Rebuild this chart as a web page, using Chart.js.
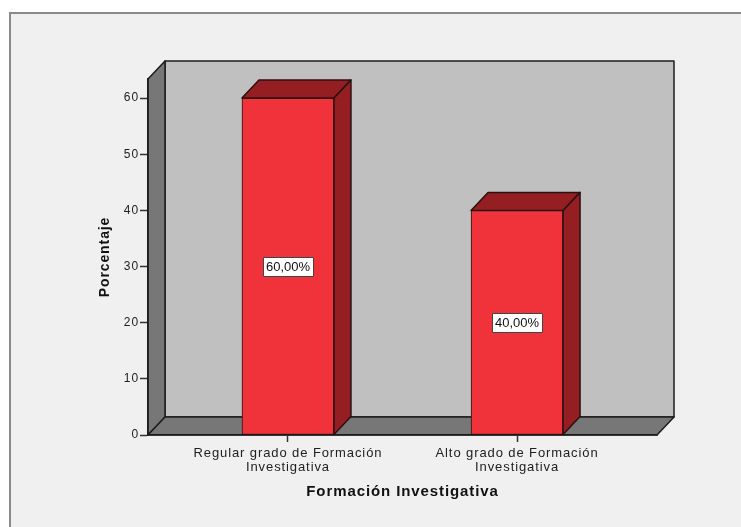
<!DOCTYPE html>
<html>
<head>
<meta charset="utf-8">
<script src="https://cdn.jsdelivr.net/npm/chart.js@4/dist/chart.umd.min.js"></script>
<style>
  html, body { margin: 0; padding: 0; background: #fff; }
  #wrap { width: 741px; height: 527px; }
</style>
</head>
<body>
<div id="wrap"><canvas id="c" width="741" height="527"></canvas></div>
<script>
const categories = [
  ["Regular grado de Formación", "Investigativa"],
  ["Alto grado de Formación", "Investigativa"]
];
const percentages = [60, 40];
const yTicks = [0, 10, 20, 30, 40, 50, 60];
const xTitle = "Formación Investigativa";
const yTitle = "Porcentaje";

const FONT = "'Liberation Sans', Arial, sans-serif";
const DX = 17, DY = 18; // profundidad 3D

function poly(ctx, pts, fill, stroke) {
  ctx.beginPath();
  ctx.moveTo(pts[0][0], pts[0][1]);
  pts.slice(1).forEach(p => ctx.lineTo(p[0], p[1]));
  ctx.closePath();
  ctx.fillStyle = fill;
  ctx.fill();
  if (stroke) {
    ctx.strokeStyle = stroke;
    ctx.lineWidth = 1.5;
    ctx.lineJoin = "round";
    ctx.stroke();
  }
}

function fmt(v) { return v.toFixed(2).replace(".", ",") + "%"; }

// fondo, marco y paredes del cubo
const box3d = {
  id: "box3d",
  beforeDraw(chart) {
    const { ctx, chartArea: a } = chart;
    const L = a.left, R = a.right, T = a.top, B = a.bottom;
    ctx.save();
    ctx.fillStyle = "#ffffff";
    ctx.fillRect(0, 0, chart.width, chart.height);
    ctx.fillStyle = "#f0f0f0";
    ctx.fillRect(9, 12, chart.width - 9, chart.height - 12);
    ctx.fillStyle = "#8a8a8a";
    ctx.fillRect(9, 12, chart.width - 9, 2);
    ctx.fillRect(9, 12, 2, chart.height - 12);

    poly(ctx, [[L + DX, T - DY], [R + DX, T - DY], [R + DX, B - DY], [L + DX, B - DY]], "#c0c0c0", "#1c1c1c");
    poly(ctx, [[L, T], [L + DX, T - DY], [L + DX, B - DY], [L, B]], "#777777", "#1c1c1c");
    poly(ctx, [[L, B], [L + DX, B - DY], [R + DX, B - DY], [R, B]], "#777777", "#1c1c1c");
    ctx.restore();
    ctx.letterSpacing = "0.9px";
  },
  afterDatasetsDraw(chart) {
    const { ctx } = chart;
    const yScale = chart.scales.y;
    const meta = chart.getDatasetMeta(0);
    ctx.save();
    meta.data.forEach((bar, i) => {
      const { x, y, base, width } = bar.getProps(["x", "y", "base", "width"], true);
      const x1 = x - width / 2, x2 = x + width / 2;
      poly(ctx, [[x1, y], [x1 + DX, y - DY], [x2 + DX, y - DY], [x2, y]], "#951e22", "#2a1010");
      poly(ctx, [[x2, y], [x2 + DX, y - DY], [x2 + DX, base - DY], [x2, base]], "#951e22", "#2a1010");

      // etiqueta de valor
      const v = percentages[i];
      const cy = yScale.getPixelForValue(v / 2);
      ctx.letterSpacing = "0px";
      ctx.font = "13px " + FONT;
      const tw = ctx.measureText(fmt(v)).width;
      const bw = Math.round(tw + 6), bh = 19;
      const bx = Math.round(x - bw / 2) + 0.5, by = Math.round(cy - bh / 2) + 0.5;
      ctx.fillStyle = "#ffffff";
      ctx.fillRect(bx, by, bw, bh);
      ctx.strokeStyle = "#444";
      ctx.lineWidth = 1;
      ctx.strokeRect(bx, by, bw, bh);
      ctx.fillStyle = "#111";
      ctx.textAlign = "center";
      ctx.textBaseline = "middle";
      ctx.fillText(fmt(v), x, cy + 1);
    });
    ctx.restore();
  }
};

new Chart(document.getElementById("c"), {
  type: "bar",
  data: {
    datasets: [{
      data: percentages.map((v, i) => ({ x: i, y: v })),
      backgroundColor: "#f0323a",
      borderColor: "#2a1010",
      borderWidth: 1,
      borderSkipped: false,
      barThickness: 92
    }]
  },
  options: {
    responsive: false,
    animation: false,
    events: [],
    layout: { padding: { left: 90, top: 79, right: 84, bottom: 0 } },
    plugins: { legend: { display: false }, tooltip: { enabled: false } },
    scales: {
      x: {
        type: "linear",
        offset: false,
        min: -0.611,
        max: 1.611,
        afterBuildTicks: s => { s.ticks = categories.map((c, i) => ({ value: i })); },
        afterFit: s => { s.height = 92; },
        grid: { offset: false, drawOnChartArea: false, tickLength: 7, tickColor: "#333", tickWidth: 1.5 },
        border: { color: "#1c1c1c", width: 1.5 },
        ticks: {
          callback: v => categories[v],
          color: "#222",
          font: { family: FONT, size: 13, lineHeight: 1.03 },
          padding: 5,
          maxRotation: 0,
          autoSkip: false
        },
        title: {
          display: true, text: xTitle, color: "#111",
          font: { family: FONT, size: 15, weight: "bold", lineHeight: 1.2 },
          padding: { top: 0, bottom: 26 }
        }
      },
      y: {
        min: 0,
        max: 63.4,
        afterBuildTicks: s => { s.ticks = yTicks.map(v => ({ value: v })); },
        afterFit: s => { s.width = 58; },
        grid: { drawOnChartArea: false, tickLength: 8, tickColor: "#333", tickWidth: 1.5 },
        border: { color: "#1c1c1c", width: 1.5 },
        ticks: { color: "#222", font: { family: FONT, size: 12 }, padding: 1 },
        title: {
          display: true, text: yTitle, color: "#111",
          font: { family: FONT, size: 14, weight: "bold", lineHeight: 1.2 },
          padding: { top: 6.6, bottom: 0 }
        }
      }
    }
  },
  plugins: [box3d]
});
</script>
</body>
</html>
